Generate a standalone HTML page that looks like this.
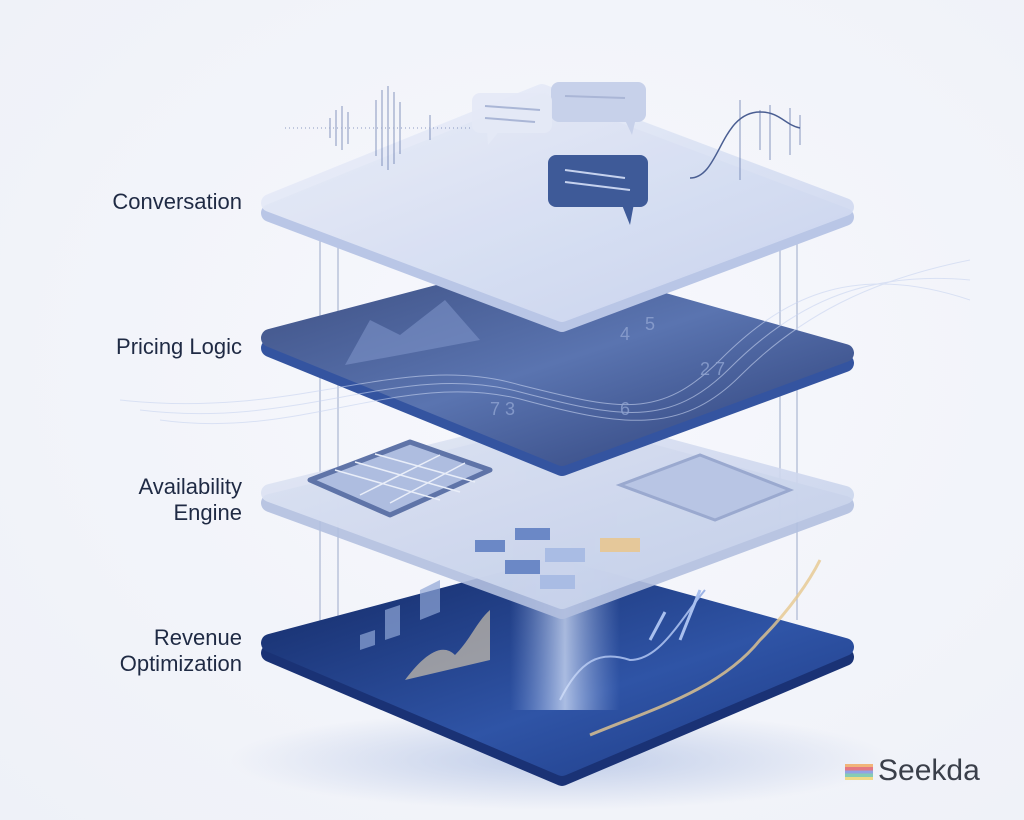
<!DOCTYPE html>
<html><head><meta charset="utf-8"><style>
html,body{margin:0;padding:0;background:#f4f6fb;}
.wrap{position:relative;width:1024px;height:820px;overflow:hidden;background:radial-gradient(ellipse at 55% 45%,#f7f8fd 0%,#f1f3f9 70%,#eef1f8 100%);}
.lbl{position:absolute;right:782px;font-family:"Liberation Sans",sans-serif;font-size:22px;color:#1f2a44;text-align:right;line-height:26px;}
.logo{position:absolute;left:878px;top:754px;font-family:"Liberation Sans",sans-serif;font-size:30px;color:#3a3f4a;}
</style></head><body><div class="wrap">
<svg width="1024" height="820" style="position:absolute;left:0;top:0">
<defs>
<linearGradient id="g1" x1="0" y1="0" x2="1" y2="1"><stop offset="0" stop-color="#eef1fa"/><stop offset="1" stop-color="#c9d4ee"/></linearGradient>
<linearGradient id="g2" x1="0" y1="0" x2="1" y2="1"><stop offset="0" stop-color="#3d4f82"/><stop offset="0.5" stop-color="#5a74b0"/><stop offset="1" stop-color="#2c3f78"/></linearGradient>
<linearGradient id="g3" x1="0" y1="0" x2="1" y2="1"><stop offset="0" stop-color="#e2e7f5"/><stop offset="1" stop-color="#c3cfea"/></linearGradient>
<linearGradient id="g4" x1="0" y1="0" x2="1" y2="1"><stop offset="0" stop-color="#142a66"/><stop offset="0.6" stop-color="#2f54a6"/><stop offset="1" stop-color="#1d3a84"/></linearGradient>
<linearGradient id="beam" x1="0" y1="0" x2="1" y2="0"><stop offset="0" stop-color="#9fb7e8" stop-opacity="0"/><stop offset="0.5" stop-color="#dbe6fb" stop-opacity="0.9"/><stop offset="1" stop-color="#9fb7e8" stop-opacity="0"/></linearGradient>
<radialGradient id="sh" cx="0.5" cy="0.5" r="0.5"><stop offset="0" stop-color="#8ea6d8" stop-opacity="0.5"/><stop offset="1" stop-color="#8ea6d8" stop-opacity="0"/></radialGradient>
</defs>
<ellipse cx="560" cy="760" rx="330" ry="50" fill="url(#sh)"/>
<g stroke="#8d9cc0" stroke-width="1.2" opacity="0.7">
<line x1="320" y1="230" x2="320" y2="630"/><line x1="338" y1="240" x2="338" y2="630"/>
<line x1="780" y1="240" x2="780" y2="520"/><line x1="797" y1="230" x2="797" y2="620"/>
</g>
<!-- layer 4 -->
<g stroke-linejoin="round">
<polygon points="270,653 555,577 845,657 562,777" fill="#1a3275" stroke="#1a3275" stroke-width="18"/>
<polygon points="270,643 555,567 845,647 562,767" fill="url(#g4)" stroke="url(#g4)" stroke-width="18"/>
</g>
<path d="M360 650 L360 635 L375 630 L375 645 Z M385 640 L385 610 L400 605 L400 635 Z M420 620 L420 590 L440 580 L440 612 Z" fill="#8fa5d6" opacity="0.7"/>
<path d="M405 680 C420 660,440 640,455 655 C470 640,478 620,490 610 L490 660 Z" fill="#e8d6b0" opacity="0.6"/>
<path d="M560 700 C580 660,600 650,630 660 C660 660,680 620,705 590" stroke="#9db4e6" stroke-width="2" fill="none"/>
<path d="M590 735 C650 710,720 690,760 640 C790 610,810 580,820 560" stroke="#e6c88e" stroke-width="3" fill="none" opacity="0.8"/>
<path d="M650 640 L665 612 M680 640 L700 590" stroke="#a9c0ef" stroke-width="3"/>
<!-- beam -->
<rect x="510" y="250" width="110" height="460" fill="url(#beam)" opacity="0.8"/>
<!-- layer 3 -->
<g stroke-linejoin="round">
<polygon points="270,503 566,430 845,505 562,610" fill="#b3c0e0" stroke="#b3c0e0" stroke-width="18" opacity="0.9"/>
<polygon points="270,493 566,420 845,495 562,600" fill="url(#g3)" stroke="url(#g3)" stroke-width="18" opacity="0.9"/>
</g>
<polygon points="310,480 410,442 490,470 390,515" fill="#aebde0" stroke="#5f74a8" stroke-width="5" stroke-linejoin="round"/>
<g stroke="#e9eef9" stroke-width="1.5"><line x1="335" y1="470" x2="440" y2="500"/><line x1="355" y1="462" x2="460" y2="492"/><line x1="375" y1="454" x2="475" y2="482"/><line x1="360" y1="495" x2="440" y2="455"/><line x1="390" y1="503" x2="465" y2="463"/></g>
<polygon points="620,485 700,455 790,490 715,520" fill="#b8c5e4" stroke="#9aa9cf" stroke-width="3"/>
<rect x="690" y="502" width="32" height="16" fill="#1f3e84" transform="skewY(-10)"/>
<rect x="725" y="503" width="28" height="14" fill="#4b6db4" transform="skewY(-10)"/>
<g fill="#6b88c6"><rect x="475" y="540" width="30" height="12"/><rect x="515" y="528" width="35" height="12"/><rect x="505" y="560" width="35" height="14"/><rect x="545" y="548" width="40" height="14" fill="#a9bce4"/><rect x="600" y="538" width="40" height="14" fill="#e5c89a"/><rect x="540" y="575" width="35" height="14" fill="#a9bce4"/></g>
<!-- layer 2 -->
<g stroke-linejoin="round">
<polygon points="270,348 540,277 845,363 562,467" fill="#3454a0" stroke="#3454a0" stroke-width="18"/>
<polygon points="270,338 540,267 845,353 562,457" fill="url(#g2)" stroke="url(#g2)" stroke-width="18"/>
</g>
<path d="M345 365 L370 320 L400 335 L445 300 L480 340 L400 355 Z" fill="#7d93c8" opacity="0.6"/>
<g stroke="#c8d4f0" stroke-width="1" fill="none" opacity="0.6">
<path d="M120 400 C300 420,400 350,520 385 C620 410,660 420,720 360 C780 300,850 260,970 300"/>
<path d="M140 410 C300 430,400 360,520 392 C620 418,670 428,730 368 C790 308,860 270,970 280"/>
<path d="M160 420 C300 440,400 370,520 399 C620 426,680 436,740 376 C800 316,870 280,970 260"/>
</g>
<g font-family="Liberation Sans,sans-serif" font-size="18" fill="#8fa3d1" opacity="0.8"><text x="620" y="340">4</text><text x="645" y="330">5</text><text x="700" y="375">2 7</text><text x="490" y="415">7 3</text><text x="620" y="415">6</text></g>
<!-- layer 1 -->
<g stroke-linejoin="round">
<polygon points="270,213 542,103 845,217 562,323" fill="#b9c6e6" stroke="#b9c6e6" stroke-width="18"/>
<polygon points="270,203 542,93 845,207 562,313" fill="url(#g1)" stroke="url(#g1)" stroke-width="18" opacity="0.93"/>
</g>
<!-- waves -->
<g stroke="#5d72a8" stroke-width="1.3" opacity="0.55">
<path d="M285 128 H470" stroke-dasharray="1 3"/>
<line x1="330" y1="118" x2="330" y2="138"/><line x1="336" y1="110" x2="336" y2="146"/><line x1="342" y1="106" x2="342" y2="150"/><line x1="348" y1="112" x2="348" y2="144"/><line x1="376" y1="100" x2="376" y2="156"/><line x1="382" y1="90" x2="382" y2="166"/><line x1="388" y1="86" x2="388" y2="170"/><line x1="394" y1="92" x2="394" y2="164"/><line x1="400" y1="102" x2="400" y2="154"/><line x1="430" y1="115" x2="430" y2="140"/>
<line x1="760" y1="110" x2="760" y2="150"/><line x1="770" y1="105" x2="770" y2="160"/><line x1="790" y1="108" x2="790" y2="155"/><line x1="800" y1="115" x2="800" y2="145"/><line x1="740" y1="100" x2="740" y2="180"/>
</g>
<path d="M690 178 C720 178,720 112,760 112 C780 112,785 125,800 128" stroke="#4a5e92" fill="none" stroke-width="1.5"/>
<!-- bubbles -->
<rect x="551" y="82" width="95" height="40" rx="8" fill="#c7d1ea"/><polygon points="625,120 632,135 636,118" fill="#c7d1ea"/>
<rect x="472" y="93" width="80" height="40" rx="8" fill="#e4e9f6" opacity="0.9"/><polygon points="487,130 488,145 500,130" fill="#e4e9f6"/>
<rect x="548" y="155" width="100" height="52" rx="8" fill="#3e5a98"/><polygon points="620,200 630,225 635,198" fill="#3e5a98"/>
<g stroke="#c6d2ee" stroke-width="2"><line x1="565" y1="170" x2="625" y2="178"/><line x1="565" y1="182" x2="630" y2="190"/></g>
<g stroke="#aab6d6" stroke-width="2"><line x1="485" y1="106" x2="540" y2="110"/><line x1="485" y1="118" x2="535" y2="122"/><line x1="565" y1="96" x2="625" y2="98"/></g>
</svg>
<div class="lbl" style="top:189px">Conversation</div>
<div class="lbl" style="top:334px">Pricing Logic</div>
<div class="lbl" style="top:474px">Availability<br>Engine</div>
<div class="lbl" style="top:625px">Revenue<br>Optimization</div>
<div style="position:absolute;left:845px;top:764px;width:28px;height:16px;background:linear-gradient(#f2a65a 0 20%,#e25b66 20% 40%,#7a8fe0 40% 60%,#6cc3a3 60% 80%,#f0d46a 80%);opacity:0.8"></div>
<div class="logo">Seekda</div>
</div></body></html>
